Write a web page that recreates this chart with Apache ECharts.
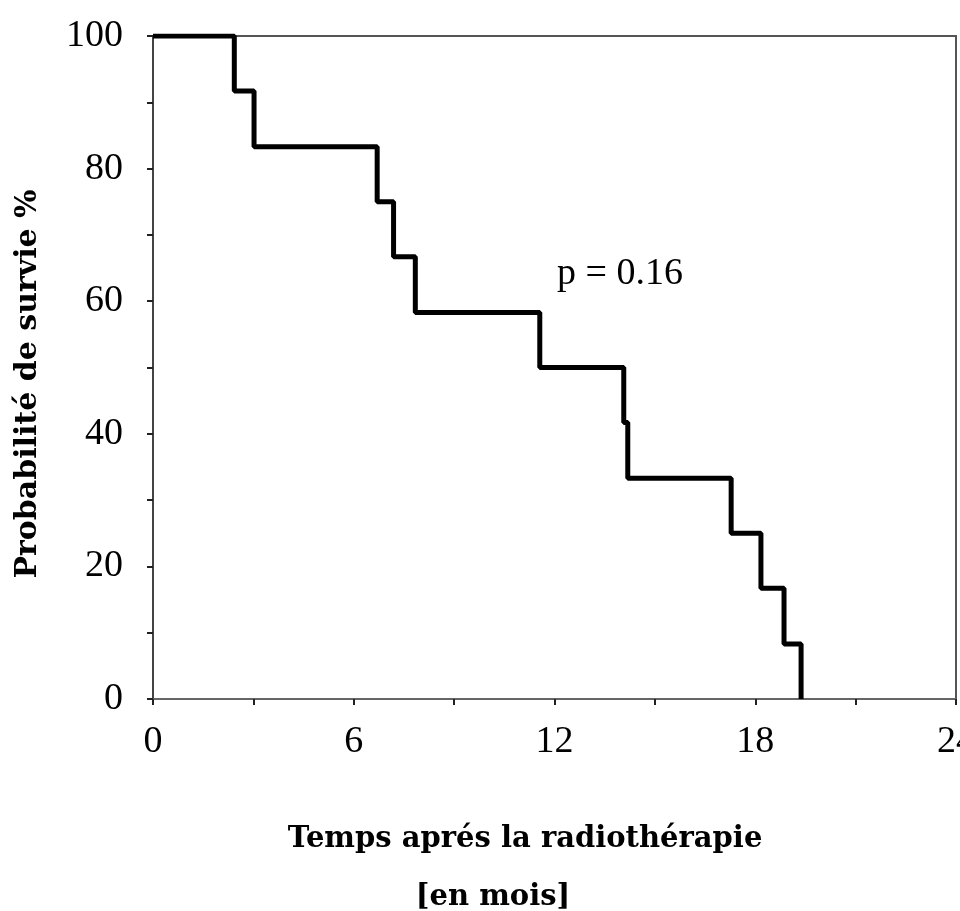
<!DOCTYPE html>
<html>
<head>
<meta charset="utf-8">
<script src="https://cdn.jsdelivr.net/npm/echarts@6/dist/echarts.min.js"></script>
<style>
  html, body { margin: 0; padding: 0; background: #fff; }
  #chart { width: 960px; height: 911px; }
</style>
</head>
<body>
<div id="chart"></div>
<script>
'use strict';
// Kaplan-Meier steps (months, % surviving)
var months = [0, 2.43, 3.02, 6.7, 7.19, 7.84, 11.56, 14.07, 14.19, 17.28, 18.17, 18.86, 19.37];
var survival = [100, 91.7, 83.3, 75, 66.7, 58.3, 50, 41.7, 33.3, 25, 16.7, 8.3, 0];
var xTicks = { min: 0, max: 24, interval: 6 };
var yTicks = { min: 0, max: 100, interval: 20 };
var pText = 'p = 0.16';

var serif = '"Liberation Serif", "Times New Roman", serif';
var boldSerif = '"DejaVu Serif", serif';

var chart = echarts.init(document.getElementById('chart'), null, { renderer: 'canvas' });

var points = [];
for (var i = 0; i < months.length; i++) {
    points.push([months[i], survival[i]]);
}

chart.setOption({
    animation: false,
    backgroundColor: '#fff',
    grid: {
        left: 153, right: 4, top: 36, bottom: 212,
        containLabel: false, outerBoundsMode: 'none',
        show: true, borderColor: '#555', borderWidth: 2
    },
    xAxis: {
        type: 'value',
        min: xTicks.min, max: xTicks.max, interval: xTicks.interval,
        axisLine: { lineStyle: { color: '#666', width: 2 } },
        axisTick: { length: 6, lineStyle: { color: '#222', width: 2 } },
        minorTick: { show: true, splitNumber: 2, length: 6, lineStyle: { color: '#222', width: 2 } },
        splitLine: { show: false },
        axisLabel: { margin: 24, fontFamily: serif, fontSize: 38, color: '#000' }
    },
    yAxis: {
        type: 'value',
        min: yTicks.min, max: yTicks.max, interval: yTicks.interval,
        axisLine: { lineStyle: { color: '#444', width: 2 } },
        axisTick: { length: 6, lineStyle: { color: '#222', width: 2 } },
        minorTick: { show: true, splitNumber: 2, length: 6, lineStyle: { color: '#222', width: 2 } },
        splitLine: { show: false },
        axisLabel: { margin: 30, fontFamily: serif, fontSize: 38, color: '#000' }
    },
    series: [{
        type: 'line',
        step: 'end',
        data: points,
        symbol: 'none',
        lineStyle: { color: '#000', width: 5 },
        z: 5
    }],
    graphic: [
        {
            type: 'text', left: 557, top: 255,
            style: { text: pText, font: '38px ' + serif, fill: '#000' }
        },
        {
            type: 'text', x: 28, y: 384, rotation: Math.PI / 2,
            style: {
                text: 'Probabilité de survie %', font: 'bold 30px ' + boldSerif,
                fill: '#000', align: 'center', verticalAlign: 'middle'
            }
        },
        {
            type: 'text', x: 525, y: 839,
            style: {
                text: 'Temps aprés la radiothérapie', font: 'bold 29px ' + boldSerif,
                fill: '#000', align: 'center', verticalAlign: 'middle'
            }
        },
        {
            type: 'text', x: 493, y: 897,
            style: {
                text: '[en mois]', font: 'bold 29px ' + boldSerif,
                fill: '#000', align: 'center', verticalAlign: 'middle'
            }
        }
    ]
});
</script>
</body>
</html>
